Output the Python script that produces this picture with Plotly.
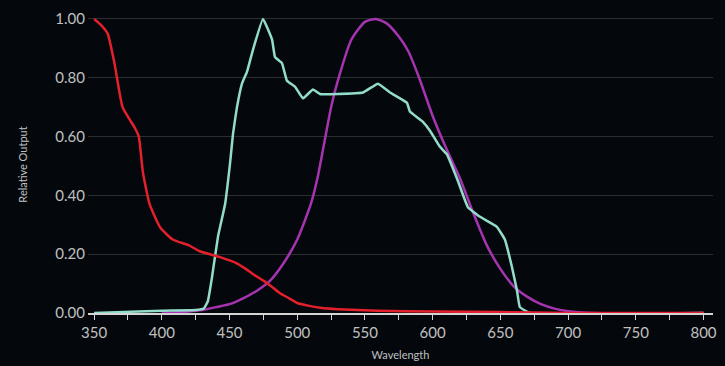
import plotly.graph_objects as go

# Red series
red_x = [350, 355, 360, 365, 371, 376, 380, 383, 386, 391, 399, 408, 420, 428, 443, 455, 462, 468, 475, 481, 487, 494, 500, 508, 517, 530, 559, 600, 650, 700, 800]
red_y = [1.00, 0.98, 0.95, 0.85, 0.70, 0.66, 0.63, 0.60, 0.48, 0.37, 0.29, 0.25, 0.23, 0.21, 0.19, 0.17, 0.15, 0.13, 0.11, 0.09, 0.068, 0.05, 0.034, 0.025, 0.018, 0.013, 0.008, 0.005, 0.003, 0.0, 0.0]

# Teal series
teal_x = [350, 400, 425, 431, 434, 437, 441.5, 446.7, 450.4, 452.6, 455.5, 459.2, 462.9, 467.3, 474.7, 481.4, 483.6, 488.7, 492.4, 498.3, 504.2, 511.6, 516.8, 530, 548.5, 559.6, 568.5, 581, 583.2, 592.8, 598, 605.4, 610.5, 618.6, 626, 635, 647.4, 653.3, 658.5, 662.2, 664.4, 671.8, 800]
teal_y = [0.0, 0.008, 0.01, 0.015, 0.04, 0.12, 0.26, 0.37, 0.51, 0.61, 0.70, 0.78, 0.82, 0.895, 1.0, 0.93, 0.87, 0.85, 0.79, 0.77, 0.73, 0.76, 0.745, 0.745, 0.75, 0.78, 0.75, 0.715, 0.685, 0.65, 0.62, 0.565, 0.54, 0.45, 0.36, 0.327, 0.293, 0.25, 0.157, 0.078, 0.02, 0.0, 0.0]

# Purple series
purple_x = [400, 420, 430, 440, 450, 460, 470, 480, 490, 500, 510, 515, 520, 525, 530, 540, 550, 558, 566, 575, 582, 590, 600, 610, 620, 630, 640, 650, 660, 670, 680, 690, 700, 720, 800]
purple_y = [0.0, 0.005, 0.01, 0.02, 0.03, 0.05, 0.075, 0.11, 0.17, 0.25, 0.37, 0.46, 0.58, 0.70, 0.79, 0.93, 0.99, 1.0, 0.985, 0.94, 0.89, 0.80, 0.67, 0.56, 0.46, 0.34, 0.23, 0.15, 0.09, 0.055, 0.03, 0.015, 0.006, 0.0, 0.0]

x_ticks = [350, 400, 450, 500, 550, 600, 650, 700, 750, 800]
y_ticks = [0.0, 0.2, 0.4, 0.6, 0.8, 1.0]

fig = go.Figure()
fig.add_trace(go.Scatter(x=purple_x, y=purple_y, mode="lines",
                         line=dict(color="#a634b0", width=2.5, shape="spline", smoothing=0.6)))
fig.add_trace(go.Scatter(x=teal_x, y=teal_y, mode="lines",
                         line=dict(color="#93dccb", width=2.5, shape="spline", smoothing=0.3)))
fig.add_trace(go.Scatter(x=red_x, y=red_y, mode="lines",
                         line=dict(color="#e3202c", width=2.5, shape="spline", smoothing=0.5)))

fig.update_layout(
    width=725, height=366,
    margin=dict(l=88, r=12, t=16, b=53),
    paper_bgcolor="#04080c",
    plot_bgcolor="#04080c",
    showlegend=False,
    font=dict(family="Lato, 'Open Sans', sans-serif", color="#c0c0c0"),
)
fig.update_xaxes(
    range=[345.5, 807],
    tickvals=x_ticks,
    tickfont=dict(size=15, color="#c0c0c0"),
    showgrid=False, zeroline=False, automargin=False,
    showline=True, linecolor="#d4d4d4", linewidth=2,
    ticks="outside", ticklen=5, tickcolor="#d4d4d4", tickwidth=1,
    minor=dict(dtick=25, tick0=350, ticks="outside", ticklen=5, tickcolor="#d4d4d4", showgrid=False),
    title=dict(text="Wavelength", font=dict(size=11, color="#c0c0c0"), standoff=11),
)
fig.update_yaxes(
    range=[0, 1.01],
    tickvals=y_ticks,
    tickformat=".2f",
    tickfont=dict(size=15, color="#c0c0c0"),
    showgrid=True, gridcolor="#2b2e31", gridwidth=1,
    zeroline=False, showline=False, automargin=False,
    ticks="", ticklabelstandoff=2,
    title=dict(text="Relative Output", font=dict(size=11, color="#c0c0c0"), standoff=25),
)

fig.write_html("out.html", config={"displayModeBar": False},
               post_script="document.body.style.margin='0';document.body.style.background='#04080c';")
